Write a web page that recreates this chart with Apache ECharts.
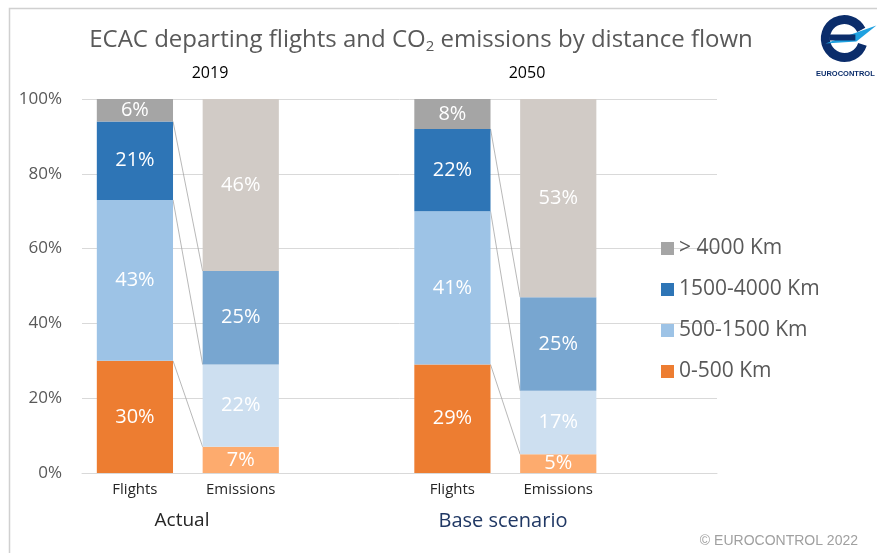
<!DOCTYPE html>
<html>
<head>
<meta charset="utf-8">
<script src="https://cdn.jsdelivr.net/npm/echarts@6/dist/echarts.min.js"></script>
<style>html,body{margin:0;padding:0;background:#fff}#c{width:877px;height:553px}</style>
</head>
<body>
<div id="c"></div>
<script>
var categories = ['Flights', 'Emissions', '', 'Flights', 'Emissions', ''];
var seriesNames = ['0-500 Km', '500-1500 Km', '1500-4000 Km', '> 4000 Km'];
// values per category index (null where empty)
var v0_500     = [30, 7, null, 29, 5, null];
var v500_1500  = [43, 22, null, 41, 17, null];
var v1500_4000 = [21, 25, null, 22, 25, null];
var v4000      = [6, 46, null, 8, 53, null];
var yTicks = [0, 20, 40, 60, 80, 100];
var groupLabels = ['2019', '2050'];
var scenarioLabels = ['Actual', 'Base scenario'];
var groups = [[0, 1], [3, 4]]; // [flights index, emissions index]

var flightColors = ['#ed7d31', '#9dc3e6', '#2e75b6', '#a5a5a5'];
var emissionColors = ['#fdab6e', '#cddff0', '#78a6d0', '#d1cbc6'];
var FONT = 'Open Sans';
var BAR_FRAC = 0.72;

var allVals = [v0_500, v500_1500, v1500_4000, v4000];

var barSeries = allVals.map(function (arr, si) {
  return {
    name: seriesNames[si],
    type: 'bar',
    stack: 'a',
    barWidth: (BAR_FRAC * 100) + '%',
    itemStyle: { color: flightColors[si] },
    label: {
      show: true, position: 'inside', color: '#fff', fontFamily: FONT, fontSize: 20,
      formatter: function (p) { return p.value == null ? '' : p.value + '%'; }
    },
    data: arr.map(function (v, i) {
      if (v == null) return null;
      var isEm = categories[i] === 'Emissions';
      return { value: v, itemStyle: { color: isEm ? emissionColors[si] : flightColors[si] } };
    }),
    z: 3
  };
});

// series lines: cumulative boundaries
var lineData = [];
groups.forEach(function (g) {
  var fc = 0, ec = 0;
  for (var si = 0; si < 3; si++) {
    fc += allVals[si][g[0]];
    ec += allVals[si][g[1]];
    lineData.push([g[0], g[1], fc, ec]);
  }
});

var linesSeries = {
  type: 'custom',
  silent: true,
  z: 2,
  data: lineData,
  encode: { x: 0, y: 2 },
  renderItem: function (params, api) {
    var bw = api.size([1, 0])[0] * BAR_FRAC;
    var p1 = api.coord([api.value(0), api.value(2)]);
    var p2 = api.coord([api.value(1), api.value(3)]);
    return {
      type: 'line',
      shape: { x1: p1[0] + bw / 2, y1: p1[1], x2: p2[0] - bw / 2, y2: p2[1] },
      style: { stroke: '#a6a6a6', lineWidth: 0.8 }
    };
  }
};

var chart = echarts.init(document.getElementById('c'));
chart.setOption({
  animation: false,
  backgroundColor: '#fff',
  grid: { left: 82, right: 160, top: 99, bottom: 80, containLabel: false },
  xAxis: {
    type: 'category', data: categories,
    axisLine: { lineStyle: { color: '#d9d9d9' } },
    axisTick: { show: false },
    axisLabel: { color: '#262626', fontFamily: FONT, fontSize: 15, margin: 9 }
  },
  yAxis: {
    type: 'value', min: yTicks[0], max: yTicks[yTicks.length - 1], interval: 20,
    axisLabel: { formatter: '{value}%', color: '#595959', fontFamily: FONT, fontSize: 17, margin: 20 },
    splitLine: { lineStyle: { color: '#d9d9d9' } },
    axisLine: { show: false }, axisTick: { show: false }
  },
  legend: {
    orient: 'vertical', left: 656, top: 233, itemGap: 20, itemWidth: 13, itemHeight: 13,
    icon: 'rect',
    data: seriesNames.slice().reverse(),
    textStyle: { color: '#595959', fontFamily: FONT, fontSize: 21 }
  },
  title: {
    text: 'ECAC departing flights and CO{s|2} emissions by distance flown',
    left: 416, textAlign: 'center', top: 21,
    textStyle: {
      color: '#595959', fontFamily: FONT, fontSize: 24, fontWeight: 'normal',
      rich: { s: { fontSize: 15, color: '#595959', fontFamily: FONT, padding: [13, 0, 0, 0] } }
    }
  },
  graphic: [
    { type: 'rect', left: 7, top: 6, shape: { width: 880, height: 560 }, style: { fill: 'none', stroke: '#d0d0d0', lineWidth: 1.5 }, silent: true, z: -10 },
    { type: 'text', style: { x: 210, y: 73, text: groupLabels[0], fill: '#000', font: '16px "' + FONT + '"', align: 'center', verticalAlign: 'middle' } },
    { type: 'text', style: { x: 527, y: 73, text: groupLabels[1], fill: '#000', font: '16px "' + FONT + '"', align: 'center', verticalAlign: 'middle' } },
    { type: 'text', style: { x: 182, y: 521, text: scenarioLabels[0], fill: '#262626', font: '19px "' + FONT + '"', align: 'center', verticalAlign: 'middle' } },
    { type: 'text', style: { x: 503, y: 521, text: scenarioLabels[1], fill: '#203864', font: '20px "' + FONT + '"', align: 'center', verticalAlign: 'middle' } },
    { type: 'text', style: { x: 858, y: 541, text: '© EUROCONTROL 2022', fill: '#a0a0a0', font: '14px "Liberation Sans"', align: 'right', verticalAlign: 'middle' } },
    // logo
    { type: 'group', left: 816, top: 15, children: [
      { type: 'arc', shape: { cx: 26, cy: 24, r: 19, startAngle: 0.1 * Math.PI, endAngle: 1.85 * Math.PI, clockwise: true }, style: { stroke: '#0b2d6b', lineWidth: 9, fill: 'none' } },
      { type: 'polygon', shape: { points: [[7, 29], [58, 11], [38, 27]] }, style: { fill: '#1fa1e0' } },
      { type: 'rect', shape: { x: 11, y: 20, width: 26, height: 6 }, style: { fill: '#0b2d6b' } },
      { type: 'text', style: { x: 27, y: 59, text: 'EUROCONTROL', fill: '#0b2d6b', font: 'bold 7.5px "Liberation Sans"', align: 'center', verticalAlign: 'middle' } }
    ] }
  ],
  series: barSeries.concat([linesSeries])
});
</script>
</body>
</html>
